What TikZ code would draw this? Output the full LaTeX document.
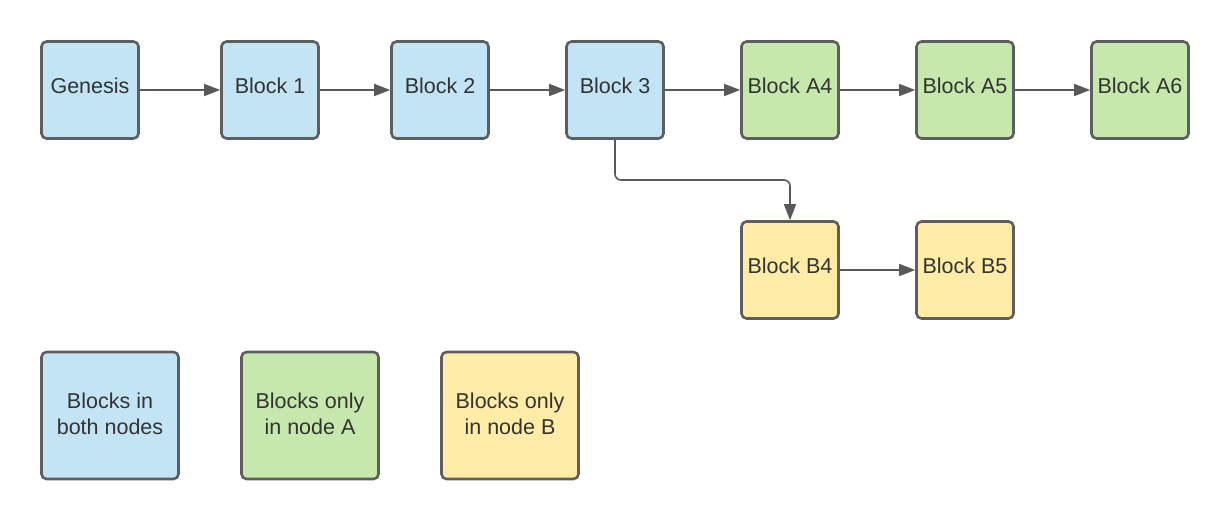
\documentclass[tikz,border=0pt]{standalone}
\usepackage{fontspec}
\setmainfont{Liberation Sans}
\usetikzlibrary{arrows.meta}
\definecolor{bblue}{HTML}{C3E4F5}
\definecolor{bgreen}{HTML}{C7E8AC}
\definecolor{byellow}{HTML}{FFECA6}
\definecolor{bborder}{HTML}{5E5E5E}
\definecolor{btext}{HTML}{333333}
\definecolor{barrow}{HTML}{595959}
\begin{document}
\begin{tikzpicture}[x=1pt,y=-1pt,
  blk/.style={draw=bborder,line width=2.6pt,rounded corners=5pt,minimum width=97pt,minimum height=97pt,inner sep=0pt,text=btext,font=\fontsize{21.5}{26.5}\selectfont,align=center,text depth=8pt},
  leg/.style={blk,minimum width=137pt,minimum height=127pt,text depth=4pt},
  conn/.style={draw=barrow,line width=1.6pt,-{Triangle[length=16pt,width=12pt]}}]
\useasboundingbox (0,0) rectangle (1230,520);
\node[blk,fill=bblue] (g) at (90,90) {Genesis};
\node[blk,fill=bblue] (b1) at (270,90) {Block 1};
\node[blk,fill=bblue] (b2) at (440,90) {Block 2};
\node[blk,fill=bblue] (b3) at (615,90) {Block 3};
\node[blk,fill=bgreen] (a4) at (790,90) {Block A4};
\node[blk,fill=bgreen] (a5) at (965,90) {Block A5};
\node[blk,fill=bgreen] (a6) at (1140,90) {Block A6};
\node[blk,fill=byellow] (b4) at (790,270) {Block B4};
\node[blk,fill=byellow] (b5) at (965,270) {Block B5};
\node[leg,fill=bblue] (l1) at (110,415.5) {Blocks in\\both nodes};
\node[leg,fill=bgreen] (l2) at (310,415.5) {Blocks only\\in node A};
\node[leg,fill=byellow] (l3) at (510,415.5) {Blocks only\\in node B};
\draw[conn] (g) -- (b1);
\draw[conn] (b1) -- (b2);
\draw[conn] (b2) -- (b3);
\draw[conn] (b3) -- (a4);
\draw[conn] (a4) -- (a5);
\draw[conn] (a5) -- (a6);
\draw[conn] (b4) -- (b5);
\draw[conn,rounded corners=6pt] (b3.south) -- (615,180) -- (790,180) -- (b4.north);
\end{tikzpicture}
\end{document}
